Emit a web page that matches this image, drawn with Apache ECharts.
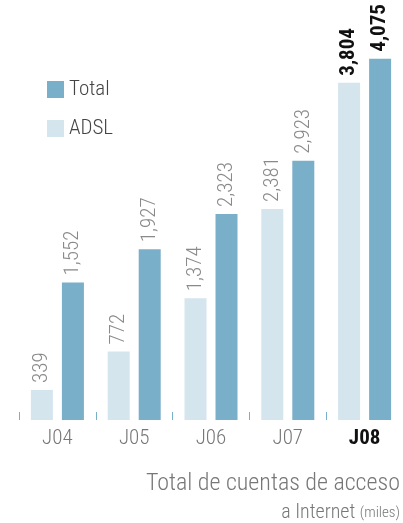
<!DOCTYPE html>
<html><head><meta charset="utf-8">
<script src="https://cdn.jsdelivr.net/npm/echarts@6/dist/echarts.min.js"></script>
<style>html,body{margin:0;padding:0;background:#fff}#c{width:403px;height:523px}</style>
</head><body><div id="c"></div>
<script>
var categories = ['J04','J05','J06','J07','J08'];
var adsl = [339, 772, 1374, 2381, 3804];
var total = [1552, 1927, 2323, 2923, 4075];
var highlightIndex = 4;

var FONT = '"Liberation Sans Narrow", "Roboto Condensed", "Liberation Sans", sans-serif';
var chart = echarts.init(document.getElementById('c'));
function fmt(v){ return Number(v).toLocaleString('en-US'); }
function items(arr){
  return arr.map(function(v,i){
    if(i===highlightIndex) return {value:v, label:{fontWeight:'bold', color:'#111'}};
    return v;
  });
}
var labelBase = {show:true, position:'top', rotate:90, align:'left', verticalAlign:'middle', distance:7,
  fontFamily:FONT, fontSize:21, fontWeight:300, color:'#8a8a8a', formatter:function(p){return fmt(p.value);}};
chart.setOption({
  animation:false,
  title:[
    {text:'Total de cuentas de acceso', right:-2, top:467, textStyle:{fontFamily:FONT, fontSize:24, fontWeight:300, color:'#777'}},
    {text:'a Internet {s|(miles)}', right:-2, top:498, textStyle:{fontFamily:FONT, fontSize:20, fontWeight:300, color:'#777',
      rich:{s:{fontFamily:FONT, fontSize:15, fontWeight:300, color:'#777'}}}}
  ],
  legend:{orient:'vertical', left:42, top:74, itemWidth:17, itemHeight:17, itemGap:18, icon:'rect',
    data:['Total','ADSL'], textStyle:{fontFamily:FONT, fontSize:21, fontWeight:300, color:'#444'}},
  grid:{left:19, width:385, top:21, height:399, containLabel:false},
  xAxis:{type:'category', data:categories.map(function(c,i){
      return i===highlightIndex ? {value:c, textStyle:{fontWeight:'bold', color:'#111'}} : c;}),
    axisLine:{show:false}, axisTick:{show:true, inside:true, length:8, lineStyle:{color:'#7aafca', width:1}},
    axisLabel:{fontFamily:FONT, fontSize:21, fontWeight:300, color:'#777', margin:8}},
  yAxis:{type:'value', min:0, max:4500, show:false, splitLine:{show:false}},
  series:[
    {name:'ADSL', type:'bar', data:items(adsl), barWidth:22, barGap:'41%', itemStyle:{color:'#d5e5ee'}, label:labelBase},
    {name:'Total', type:'bar', data:items(total), barWidth:22, barGap:'41%', itemStyle:{color:'#7aafca'}, label:labelBase}
  ]
});
</script></body></html>
